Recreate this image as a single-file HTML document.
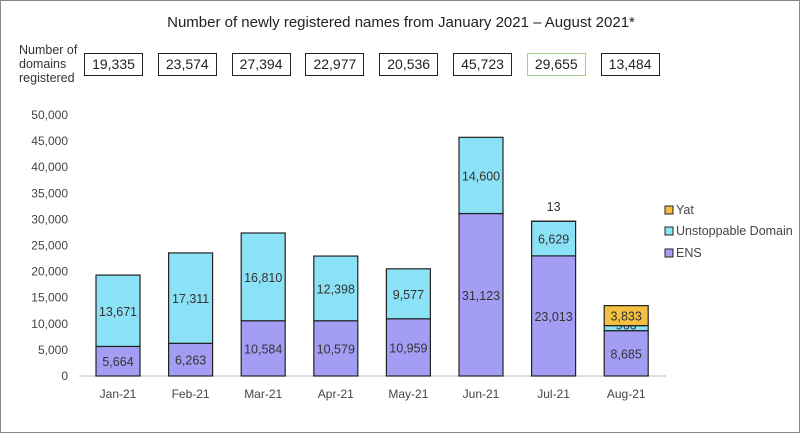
<!DOCTYPE html>
<html><head><meta charset="utf-8"><style>
body{margin:0;background:#fff;font-family:"Liberation Sans",sans-serif;}
#wrap{position:relative;width:798px;height:431px;border:1px solid #888;overflow:hidden;}
.t{position:absolute;color:#222;}
.box{position:absolute;top:52px;width:57px;height:21px;border:1.5px solid #222;font-size:14px;text-align:center;line-height:21px;color:#222;}
</style></head><body>
<div id="wrap">
<div class="t" style="left:0;width:800px;top:13px;text-align:center;font-size:15px;">Number of newly registered names from January 2021 – August 2021*</div>
<div class="t" style="left:18px;top:42px;font-size:12.5px;line-height:14px;color:#333;">Number of<br>domains<br>registered</div>
<div id="boxes"></div>
<svg id="svg" width="800" height="433" style="position:absolute;left:0;top:0;"></svg>
</div>
<script>
const months=["Jan-21","Feb-21","Mar-21","Apr-21","May-21","Jun-21","Jul-21","Aug-21"];
const ens=[5664,6263,10584,10579,10959,31123,23013,8685];
const ud=[13671,17311,16810,12398,9577,14600,6629,966];
const yat=[0,0,0,0,0,0,13,3833];
const totals=["19,335","23,574","27,394","22,977","20,536","45,723","29,655","13,484"];
const yTicks=[0,5000,10000,15000,20000,25000,30000,35000,40000,45000,50000];
const NS="http://www.w3.org/2000/svg";
const svg=document.getElementById('svg');
const y=v=>375-v*(261/50000);
const x=i=>117+i*72.6;
const fmt=v=>v.toLocaleString('en-US');
function mk(t,a,txt){const e=document.createElementNS(NS,t);for(const k in a)e.setAttribute(k,a[k]);if(txt!==undefined)e.textContent=txt;svg.appendChild(e);return e;}
yTicks.forEach(v=>{const e=mk('text',{x:67,y:y(v)+4,'text-anchor':'end','font-size':12,fill:'#444','font-family':'Liberation Sans'},fmt(v));

});
const ax=mk('line',{x1:78,x2:665,y1:375,y2:375,stroke:'#bbb','stroke-width':1});


const boxes=document.getElementById('boxes');
months.forEach((m,i)=>{
  const cx=x(i),w=44;
  let base=0;
  [[ens,'#a39ef4','ens'],[ud,'#8be1f6','unstoppable'],[yat,'#f4c03f','yat']].forEach(([arr,c,n])=>{
    const v=arr[i]; if(!v)return;
    const r=mk('rect',{x:cx-w/2,y:y(base+v),width:w,height:y(base)-y(base+v),fill:c,stroke:'#222','stroke-width':1.2});
    
    
    let ly=(y(base)+y(base+v))/2+5;
    if(n==='yat'&&v<500) ly=y(base+v)-10;
    if(n==='unstoppable'&&v<2000) ly=y(base)-1;
    const t=mk('text',{x:cx,y:ly,'text-anchor':'middle','font-size':12.5,fill:'#333','font-family':'Liberation Sans'},fmt(v));
    
    
    base+=v;
  });
  const xl=mk('text',{x:cx,y:397,'text-anchor':'middle','font-size':12,fill:'#444','font-family':'Liberation Sans'},m);
  
  
  const b=document.createElement('div');
  b.className='box';b.style.left=(83+i*73.8)+'px';b.textContent=totals[i];
  if(i===6)b.style.borderColor='#a8d08d';
  
  
  boxes.appendChild(b);
});
[['Yat','#f4c03f',213],['Unstoppable Domain','#8be1f6',234],['ENS','#a39ef4',256]].forEach(([n,c,ly])=>{
  const r=mk('rect',{x:664,y:ly-8,width:8,height:8,fill:c,stroke:'#222','stroke-width':1});
  
  
  const t=mk('text',{x:675,y:ly,'font-size':12.5,fill:'#444','font-family':'Liberation Sans'},n);
  
  
});
</script>
</body></html>
